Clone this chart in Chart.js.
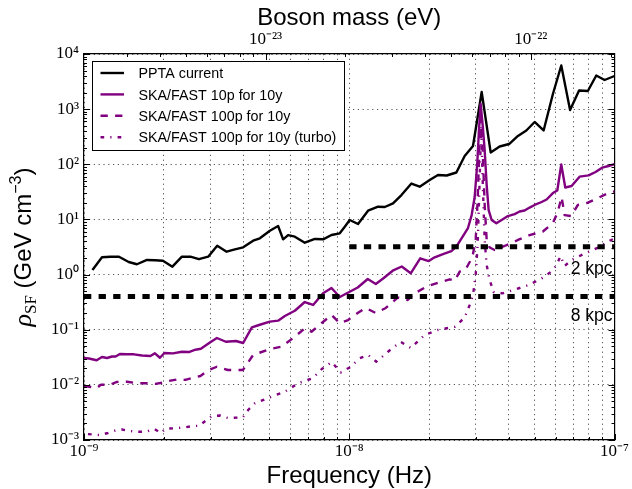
<!DOCTYPE html>
<html lang="en">
<head>
  <meta charset="UTF-8">
  <title>Stochastic field density limits</title>
  <script src="https://cdn.jsdelivr.net/npm/chart.js"></script>
  <style>
    body { margin: 0; background: #fff; }
    .wrap { position: relative; width: 632px; height: 489px; }
  </style>
</head>
<body>
  <div class="wrap"><canvas id="rhoChart"></canvas></div>

  <script>
    // Frequencies (Hz) and rho_SF (GeV cm^-3)
    const pptaFreq = [1.076e-9, 1.169e-9, 1.258e-9, 1.355e-9, 1.474e-9, 1.583e-9, 1.727e-9, 1.851e-9, 1.984e-9, 2.154e-9,
      2.339e-9, 2.518e-9, 2.711e-9, 2.939e-9, 3.178e-9, 3.448e-9, 3.706e-9, 3.981e-9, 4.342e-9, 4.602e-9,
      5.019e-9, 5.393e-9, 5.632e-9, 5.882e-9, 6.233e-9, 6.798e-9, 7.418e-9, 7.969e-9, 8.570e-9, 9.209e-9,
      9.618e-9, 1.004e-8, 1.079e-8, 1.177e-8, 1.284e-8, 1.361e-8, 1.462e-8, 1.573e-8, 1.715e-8, 1.843e-8,
      2.010e-8, 2.160e-8, 2.329e-8, 2.534e-8, 2.723e-8, 2.927e-8, 3.156e-8, 3.412e-8, 3.689e-8, 4.005e-8,
      4.323e-8, 4.651e-8, 4.997e-8, 5.403e-8, 5.857e-8, 6.298e-8, 6.798e-8, 7.350e-8, 7.932e-8, 8.534e-8,
      9.170e-8, 1.0e-7];
    const pptaRho = [1.21, 2.06, 2.11, 2.11, 1.69, 1.54, 1.84, 1.82, 1.78, 1.39,
      2.11, 2.11, 1.90, 2.11, 3.34, 2.60, 2.87, 3.12, 4.11, 4.55,
      6.24, 7.60, 4.36, 5.21, 4.86, 3.78, 4.42, 4.36, 5.21, 5.60,
      7.38, 9.76, 8.26, 14.4, 17.0, 16.8, 19.5, 27.7, 44.8, 39.2,
      51.9, 64.0, 62.6, 70.9, 141, 215, 2046, 164, 210, 233,
      326, 410, 585, 410, 1883, 6185, 964, 2178, 2133, 4074,
      3377, 3990];

    const ska10Freq = [1.000e-9, 1.044e-9, 1.116e-9, 1.169e-9, 1.221e-9, 1.275e-9, 1.316e-9, 1.366e-9, 1.452e-9, 1.543e-9,
      1.654e-9, 1.780e-9, 1.851e-9, 1.933e-9, 2.010e-9, 2.164e-9, 2.339e-9, 2.486e-9, 2.630e-9, 2.758e-9,
      2.983e-9, 3.169e-9, 3.426e-9, 3.737e-9, 3.981e-9, 4.294e-9, 4.602e-9, 5.019e-9, 5.393e-9, 5.716e-9,
      6.233e-9, 6.798e-9, 7.306e-9, 7.967e-9, 8.570e-9, 9.209e-9, 1.004e-8, 1.076e-8, 1.174e-8, 1.259e-8,
      1.349e-8, 1.458e-8, 1.577e-8, 1.705e-8, 1.851e-8, 1.993e-8, 2.099e-8, 2.256e-8, 2.426e-8, 2.534e-8,
      2.683e-8, 2.802e-8, 2.893e-8, 2.970e-8, 3.035e-8, 3.083e-8, 3.128e-8, 3.183e-8, 3.239e-8, 3.296e-8,
      3.353e-8, 3.441e-8, 3.585e-8, 3.753e-8, 3.963e-8, 4.201e-8, 4.387e-8, 4.581e-8, 4.784e-8, 4.997e-8,
      5.309e-8, 5.545e-8, 5.857e-8, 6.084e-8, 6.298e-8, 6.520e-8, 6.887e-8, 7.382e-8, 7.981e-8, 8.481e-8,
      8.974e-8, 9.493e-8, 1.0e-7];
    const ska10Rho = [0.0307, 0.0301, 0.0279, 0.0320, 0.0307, 0.0327, 0.0327, 0.0362, 0.0358, 0.0358,
      0.0340, 0.0333, 0.0373, 0.0310, 0.0378, 0.0373, 0.0399, 0.0394, 0.0434, 0.0451,
      0.0586, 0.0708, 0.0605, 0.0624, 0.0574, 0.110, 0.123, 0.140, 0.146, 0.177,
      0.221, 0.318, 0.281, 0.457, 0.570, 0.392, 0.489, 0.582, 0.830, 0.675,
      0.867, 1.175, 1.40, 1.054, 1.97, 1.76, 2.06, 2.36, 2.67, 3.20,
      5.00, 6.98, 12.0, 25.5, 97.0, 419, 1239, 516, 182, 42.1,
      14.8, 9.76, 8.51, 9.76, 11.5, 12.5, 13.9, 14.5, 16.4, 18.3,
      20.7, 23.0, 30.1, 33.4, 99.1, 37.9, 40.4, 59.6, 63.1, 72.4,
      86.7, 93.1, 101];

    const ska100Freq = [1.000e-9, 1.063e-9, 1.119e-9, 1.159e-9, 1.242e-9, 1.331e-9, 1.452e-9, 1.583e-9, 1.727e-9, 1.859e-9,
      1.967e-9, 2.090e-9, 2.240e-9, 2.412e-9, 2.596e-9, 2.747e-9, 2.957e-9, 3.169e-9, 3.486e-9, 3.971e-9,
      4.342e-9, 5.019e-9, 5.554e-9, 6.233e-9, 6.798e-9, 7.203e-9, 7.858e-9, 8.570e-9, 9.209e-9, 9.897e-9,
      1.076e-8, 1.154e-8, 1.259e-8, 1.373e-8, 1.523e-8, 1.661e-8, 1.765e-8, 1.953e-8, 2.160e-8, 2.391e-8,
      2.497e-8, 2.608e-8, 2.747e-8, 2.844e-8, 2.927e-8, 2.996e-8, 3.048e-8, 3.101e-8, 3.136e-8, 3.183e-8,
      3.239e-8, 3.296e-8, 3.382e-8, 3.532e-8, 3.852e-8, 4.323e-8, 4.784e-8, 5.370e-8, 5.857e-8, 6.116e-8,
      6.315e-8, 6.482e-8, 6.869e-8, 7.274e-8, 7.932e-8, 8.653e-8, 9.437e-8, 1.0e-7];
    const ska100Rho = [0.00953, 0.00914, 0.00877, 0.0101, 0.00993, 0.0113, 0.0114, 0.0107, 0.0107, 0.0104,
      0.0109, 0.0118, 0.0125, 0.0123, 0.0136, 0.0145, 0.0186, 0.0213, 0.0186, 0.0186,
      0.0348, 0.0447, 0.0492, 0.0746, 0.106, 0.0920, 0.131, 0.185, 0.132, 0.150,
      0.201, 0.248, 0.201, 0.248, 0.384, 0.346, 0.457, 0.603, 0.711, 0.820,
      0.775, 1.13, 1.24, 1.69, 2.36, 4.24, 22.5, 275, 887, 182,
      18.3, 4.24, 3.10, 2.79, 3.30, 4.24, 5.21, 6.04, 8.61, 13.8,
      25.5, 12.0, 11.5, 18.3, 20.1, 24.4, 29.8, 32.1];

    const turboFreq = [1.035e-9, 1.081e-9, 1.149e-9, 1.231e-9, 1.331e-9, 1.390e-9, 1.477e-9, 1.583e-9, 1.712e-9, 1.843e-9,
      1.950e-9, 2.028e-9, 2.202e-9, 2.401e-9, 2.596e-9, 2.711e-9, 2.881e-9, 3.034e-9, 3.252e-9, 3.486e-9,
      3.971e-9, 4.157e-9, 4.406e-9, 4.945e-9, 5.716e-9, 6.416e-9, 7.306e-9, 7.878e-9, 8.592e-9, 9.290e-9,
      1.004e-8, 1.095e-8, 1.177e-8, 1.266e-8, 1.396e-8, 1.563e-8, 1.705e-8, 1.925e-8, 2.160e-8, 2.497e-8,
      2.723e-8, 2.844e-8, 2.927e-8, 2.996e-8, 3.048e-8, 3.101e-8, 3.142e-8, 3.183e-8, 3.239e-8, 3.296e-8,
      3.382e-8, 3.502e-8, 3.786e-8, 4.274e-8, 4.744e-8, 5.309e-8, 5.791e-8, 6.047e-8, 6.260e-8, 6.482e-8,
      6.887e-8, 7.745e-8, 8.705e-8, 9.437e-8, 1.0e-7];
    const turboRho = [0.00128, 0.00126, 0.00123, 0.00134, 0.00152, 0.00155, 0.00146, 0.00141, 0.00141, 0.00158,
      0.00134, 0.00160, 0.00163, 0.00170, 0.00180, 0.00180, 0.00225, 0.00272, 0.00278, 0.00251,
      0.00256, 0.00350, 0.00462, 0.00577, 0.00752, 0.0107, 0.0133, 0.0194, 0.0259, 0.0168,
      0.0207, 0.0303, 0.0348, 0.0263, 0.0395, 0.0605, 0.0466, 0.0802, 0.0989, 0.113,
      0.166, 0.281, 0.426, 0.982, 3.44, 51.9, 515, 51.9, 4.24, 1.49,
      0.796, 0.483, 0.457, 0.547, 0.647, 0.849, 1.14, 1.49, 2.17, 1.43,
      1.84, 2.43, 3.10, 3.98, 4.51];

    // local dark matter density at 8 kpc and 2 kpc
    const densityFreq8 = [1e-9, 1e-7];
    const densityFreq2 = [1e-8, 1e-7];
    const rho8kpc = 0.4;
    const rho2kpc = 3.2;

    // decades that carry a tick label
    const freqDecades = [-9, -8, -7];
    const rhoDecades = [-3, -2, -1, 0, 1, 2, 3, 4];
    const massDecades = [-23, -22];

    const PLANCK_EV_S = 4.135667e-15;
    const massPerHz = PLANCK_EV_S / 2;   // boson mass (eV) for a given signal frequency

    const PURPLE = '#800080';
    const SUP = { '-': '⁻', '0': '⁰', '1': '¹', '2': '²', '3': '³', '4': '⁴', '5': '⁵', '6': '⁶', '7': '⁷', '8': '⁸', '9': '⁹' };

    function pts(xs, ys) {
      return xs.map((x, i) => ({ x: x, y: ys[i] }));
    }
    function flat(xs, v) {
      return xs.map(x => ({ x: x, y: v }));
    }
    function isDecade(v) {
      const l = Math.log10(v);
      return Math.abs(l - Math.round(l)) < 1e-6;
    }
    // 1..9 x 10^n ticks inside [min, max]
    function logTicks(scale) {
      const ticks = [];
      const lo = Math.floor(Math.log10(scale.min)), hi = Math.ceil(Math.log10(scale.max));
      for (let e = lo; e <= hi; e++) {
        for (let d = 1; d <= 9; d++) {
          const v = Number(d + 'e' + e);
          if (v >= scale.min * 0.999999 && v <= scale.max * 1.000001) ticks.push({ value: v });
        }
      }
      scale.ticks = ticks;
    }
    function decadeLabel(decades) {
      return function (value) {
        if (!isDecade(value)) return '';
        const e = Math.round(Math.log10(value));
        if (!decades.includes(e)) return '';
        return '10' + String(e).split('').map(c => SUP[c]).join('');
      };
    }

    const tickFont = { family: '"Liberation Serif", serif', size: 17, lineHeight: 1 };
    const dottedGrid = { color: 'rgba(0,0,0,0.85)', lineWidth: 0.8, drawTicks: false };

    // inward tick marks on all four sides, matplotlib style
    const frameTicks = {
      id: 'frameTicks',
      afterDraw(chart) {
        const { ctx, chartArea: a, scales } = chart;
        ctx.save();
        ctx.strokeStyle = '#000';
        ctx.lineWidth = 1;
        const mark = (x1, y1, x2, y2) => {
          ctx.beginPath(); ctx.moveTo(x1, y1); ctx.lineTo(x2, y2); ctx.stroke();
        };
        scales.x.ticks.forEach(t => {
          const p = Math.round(scales.x.getPixelForValue(t.value)) + 0.5;
          mark(p, a.bottom, p, a.bottom - (isDecade(t.value) ? 6 : 3));
        });
        scales.x2.ticks.forEach(t => {
          const p = Math.round(scales.x2.getPixelForValue(t.value)) + 0.5;
          mark(p, a.top, p, a.top + (isDecade(t.value) ? 6 : 3));
        });
        scales.y.ticks.forEach(t => {
          const p = Math.round(scales.y.getPixelForValue(t.value)) + 0.5;
          const len = isDecade(t.value) ? 6 : 3;
          mark(a.left, p, a.left + len, p);
          mark(a.right, p, a.right - len, p);
        });
        ctx.restore();
      }
    };

    // framed legend in the upper left, plus the 2 kpc / 8 kpc notes
    const legendBox = {
      id: 'legendBox',
      afterDatasetsDraw(chart) {
        const { ctx, chartArea: a, scales } = chart;
        const x0 = a.left + 8.5, y0 = a.top + 7.5;
        ctx.save();
        ctx.fillStyle = '#fff';
        ctx.fillRect(x0, y0, 252, 89);
        ctx.strokeStyle = '#000';
        ctx.lineWidth = 1;
        ctx.strokeRect(x0, y0, 252, 89);
        chart.data.datasets.filter(d => d.inLegend).forEach((d, i) => {
          const yl = y0 + 11.5 + i * 21.4;
          ctx.strokeStyle = d.borderColor;
          ctx.lineWidth = d.borderWidth;
          ctx.setLineDash(d.borderDash || []);
          ctx.beginPath(); ctx.moveTo(x0 + 8, yl); ctx.lineTo(x0 + 31.5, yl); ctx.stroke();
          ctx.setLineDash([]);
          ctx.fillStyle = '#000';
          ctx.font = '14.3px "Liberation Sans", Arial, sans-serif';
          ctx.textBaseline = 'alphabetic';
          ctx.fillText(d.label, x0 + 46, yl + 5.2);
        });

        ctx.font = '17.5px "Liberation Sans", Arial, sans-serif';
        ctx.textAlign = 'right';
        ctx.fillText('2 kpc', a.right - 2, scales.y.getPixelForValue(rho2kpc) + 27);
        ctx.fillText('8 kpc', a.right - 2, scales.y.getPixelForValue(rho8kpc) + 24);
        ctx.restore();
      }
    };

    // y axis title with the math sub/superscripts
    const yTitle = {
      id: 'yTitle',
      afterDraw(chart) {
        const { ctx, chartArea: a } = chart;
        const parts = [
          { text: 'ρ', font: 'italic 26px "Liberation Serif", serif', dy: 0 },
          { text: 'SF', font: '17px "Liberation Serif", serif', dy: 5 },
          { text: ' (GeV cm', font: '24px "Liberation Sans", Arial, sans-serif', dy: 0 },
          { text: '−3', font: '16px "Liberation Sans", Arial, sans-serif', dy: -10 },
          { text: ')', font: '24px "Liberation Sans", Arial, sans-serif', dy: 0 }
        ];
        ctx.save();
        ctx.fillStyle = '#000';
        ctx.textBaseline = 'alphabetic';
        let total = 0;
        parts.forEach(p => { ctx.font = p.font; p.w = ctx.measureText(p.text).width; total += p.w; });
        ctx.translate(31, (a.top + a.bottom) / 2);
        ctx.rotate(-Math.PI / 2);
        let x = -total / 2;
        parts.forEach(p => { ctx.font = p.font; ctx.fillText(p.text, x, p.dy); x += p.w; });
        ctx.restore();
      }
    };

    Chart.defaults.font.family = '"Liberation Sans", Arial, sans-serif';
    Chart.defaults.color = '#000';

    const lineStyle = { pointRadius: 0, tension: 0, fill: false, borderJoinStyle: 'round', borderCapStyle: 'butt' };

    new Chart(document.getElementById('rhoChart'), {
      type: 'line',
      data: {
        datasets: [
          Object.assign({ label: '8 kpc', data: flat(densityFreq8, rho8kpc), borderColor: '#000', borderWidth: 4.9, borderDash: [7.3, 7.3], order: 0 }, lineStyle),
          Object.assign({ label: '2 kpc', data: flat(densityFreq2, rho2kpc), borderColor: '#000', borderWidth: 4.9, borderDash: [7.3, 7.3], order: 0 }, lineStyle),
          Object.assign({ label: 'PPTA current', data: pts(pptaFreq, pptaRho), borderColor: '#000', borderWidth: 2.4, order: 4, inLegend: true }, lineStyle),
          Object.assign({ label: 'SKA/FAST 10p for 10y', data: pts(ska10Freq, ska10Rho), borderColor: PURPLE, borderWidth: 2.4, order: 3, inLegend: true }, lineStyle),
          Object.assign({ label: 'SKA/FAST 100p for 10y', data: pts(ska100Freq, ska100Rho), borderColor: PURPLE, borderWidth: 2.4, borderDash: [7.3, 7.3], order: 2, inLegend: true }, lineStyle),
          Object.assign({ label: 'SKA/FAST 100p for 10y (turbo)', data: pts(turboFreq, turboRho), borderColor: PURPLE, borderWidth: 2.4, borderDash: [3.7, 6.1, 1.2, 6.1], order: 1, inLegend: true }, lineStyle)
        ]
      },
      options: {
        responsive: true,
        maintainAspectRatio: false,
        animation: false,
        events: [],
        layout: { padding: 0 },
        plugins: {
          legend: { display: false },
          tooltip: { enabled: false }
        },
        scales: {
          x: {
            type: 'logarithmic',
            position: 'bottom',
            min: 1e-9,
            max: 1e-7,
            afterBuildTicks: logTicks,
            afterFit: s => { s.height = 49; },
            ticks: { autoSkip: false, maxRotation: 0, padding: 3, font: tickFont, callback: decadeLabel(freqDecades) },
            grid: dottedGrid,
            border: { color: '#000', width: 1.2, dash: [1.2, 3.6] },
            title: { display: true, text: 'Frequency (Hz)', font: { size: 24, lineHeight: 1 }, padding: { top: 0, bottom: 1 } }
          },
          x2: {
            type: 'logarithmic',
            position: 'top',
            min: 1e-9 * massPerHz,
            max: 1e-7 * massPerHz,
            afterBuildTicks: logTicks,
            afterFit: s => { s.height = 54; },
            ticks: { autoSkip: false, maxRotation: 0, padding: 6, font: tickFont, callback: decadeLabel(massDecades) },
            grid: { display: false, drawTicks: false },
            border: { color: '#000', width: 1.2 },
            title: { display: true, text: 'Boson mass (eV)', font: { size: 24, lineHeight: 1 }, padding: { top: 6, bottom: 0 } }
          },
          y: {
            type: 'logarithmic',
            position: 'left',
            min: 1e-3,
            max: 1e4,
            afterBuildTicks: logTicks,
            afterFit: s => { s.width = 84; },
            ticks: { autoSkip: false, padding: 5, font: tickFont, callback: decadeLabel(rhoDecades) },
            grid: {
              color: c => (c.tick && isDecade(c.tick.value)) ? 'rgba(0,0,0,0.85)' : 'rgba(0,0,0,0)',
              lineWidth: 0.8,
              drawTicks: false
            },
            border: { color: '#000', width: 1.2, dash: [1.2, 3.6] }
          },
          y2: {
            type: 'logarithmic',
            position: 'right',
            min: 1e-3,
            max: 1e4,
            afterFit: s => { s.width = 17; },
            ticks: { display: false },
            grid: { display: false, drawTicks: false },
            border: { color: '#000', width: 1.2 }
          }
        }
      },
      plugins: [legendBox, frameTicks, yTitle]
    });
  </script>
</body>
</html>
